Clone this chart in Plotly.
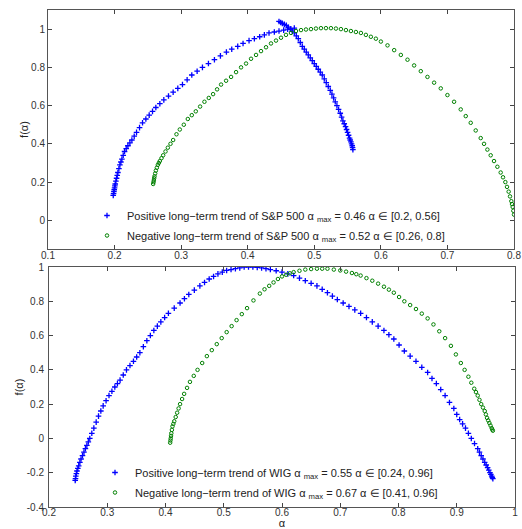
import plotly.graph_objects as go

# ---- Top panel: S&P 500 ----
sp_pos_alpha = [0.198, 0.1985, 0.199, 0.1995, 0.200, 0.2005, 0.201, 0.202, 0.203, 0.204, 0.205, 0.2065,
                0.208, 0.2095, 0.211, 0.213, 0.215, 0.2175, 0.220, 0.223, 0.226, 0.2295, 0.233, 0.2375,
                0.242, 0.247, 0.252, 0.257, 0.262, 0.268, 0.274, 0.281, 0.288, 0.295, 0.302, 0.309,
                0.316, 0.324, 0.332, 0.341, 0.350, 0.359, 0.368, 0.376, 0.385, 0.393, 0.402, 0.410,
                0.418, 0.425, 0.432, 0.440, 0.447, 0.454, 0.460, 0.465, 0.470,
                0.447, 0.4495, 0.452, 0.455, 0.458, 0.461, 0.464, 0.467, 0.470, 0.473, 0.476, 0.479,
                0.482, 0.485, 0.488, 0.491, 0.494, 0.497, 0.500, 0.503, 0.506, 0.509, 0.512, 0.515,
                0.518, 0.521, 0.524, 0.5265, 0.529, 0.5315, 0.534, 0.5365, 0.539, 0.541, 0.543, 0.545,
                0.547, 0.5485, 0.550, 0.5515, 0.553, 0.554, 0.555, 0.556, 0.557, 0.5575, 0.558]
sp_pos_f = [0.13, 0.14, 0.15, 0.16, 0.17, 0.18, 0.19, 0.205, 0.22, 0.235, 0.25, 0.27,
            0.29, 0.305, 0.32, 0.34, 0.36, 0.375, 0.39, 0.405, 0.42, 0.44, 0.46, 0.485,
            0.51, 0.53, 0.55, 0.57, 0.59, 0.61, 0.63, 0.65, 0.67, 0.69, 0.71, 0.735,
            0.76, 0.78, 0.80, 0.82, 0.84, 0.86, 0.88, 0.895, 0.91, 0.925, 0.94, 0.95,
            0.96, 0.97, 0.98, 0.985, 0.99, 0.995, 1.0, 1.0, 1.005,
            1.04, 1.035, 1.03, 1.025, 1.02, 1.01, 1.0, 0.99, 0.98, 0.965, 0.95, 0.93,
            0.91, 0.895, 0.88, 0.865, 0.85, 0.835, 0.82, 0.805, 0.79, 0.775, 0.76, 0.74,
            0.72, 0.70, 0.68, 0.66, 0.64, 0.62, 0.60, 0.58, 0.56, 0.54, 0.52, 0.505,
            0.49, 0.475, 0.46, 0.445, 0.43, 0.42, 0.41, 0.40, 0.39, 0.38, 0.37]

sp_neg_alpha = [0.258, 0.2585, 0.259, 0.2595, 0.260, 0.261, 0.262, 0.2635, 0.265, 0.2665, 0.268, 0.2705,
                0.273, 0.2765, 0.280, 0.284, 0.288, 0.293, 0.298, 0.304, 0.310, 0.316, 0.322, 0.3285,
                0.335, 0.3415, 0.348, 0.354, 0.360, 0.3675, 0.375, 0.3825, 0.390, 0.3975, 0.405, 0.4125,
                0.420, 0.4275, 0.435, 0.4425, 0.450, 0.4575, 0.465, 0.4725, 0.480, 0.4875, 0.495, 0.5025,
                0.510, 0.5175, 0.525, 0.5325, 0.540, 0.5475, 0.555, 0.5625, 0.570, 0.5775, 0.585, 0.5925,
                0.600, 0.610, 0.620, 0.630, 0.640, 0.650, 0.660, 0.670, 0.680, 0.690, 0.700, 0.710,
                0.720, 0.7275, 0.735, 0.7425, 0.750, 0.755, 0.760, 0.765, 0.770, 0.775, 0.780, 0.7835,
                0.787, 0.7895, 0.792, 0.794, 0.796, 0.797, 0.798, 0.799, 0.800]
sp_neg_f = [0.19, 0.20, 0.21, 0.22, 0.23, 0.245, 0.26, 0.275, 0.29, 0.30, 0.31, 0.325,
            0.34, 0.36, 0.38, 0.40, 0.42, 0.45, 0.475, 0.50, 0.53, 0.55, 0.57, 0.595,
            0.62, 0.64, 0.66, 0.685, 0.71, 0.73, 0.75, 0.775, 0.80, 0.82, 0.845, 0.865,
            0.885, 0.905, 0.925, 0.94, 0.955, 0.97, 0.98, 0.99, 0.995, 0.998, 1.0, 1.003,
            1.005, 1.005, 1.005, 1.003, 1.0, 0.995, 0.99, 0.985, 0.98, 0.97, 0.96, 0.95,
            0.935, 0.915, 0.89, 0.865, 0.84, 0.81, 0.78, 0.75, 0.72, 0.69, 0.655, 0.62,
            0.58, 0.545, 0.51, 0.47, 0.43, 0.40, 0.37, 0.34, 0.31, 0.28, 0.25, 0.225,
            0.20, 0.175, 0.15, 0.125, 0.10, 0.085, 0.07, 0.05, 0.03]

# ---- Bottom panel: WIG ----
wig_pos_alpha = [0.245, 0.2455, 0.246, 0.247, 0.248, 0.2495, 0.251, 0.253, 0.255, 0.2575, 0.260, 0.2625,
                 0.265, 0.2675, 0.270, 0.2735, 0.277, 0.281, 0.285, 0.289, 0.293, 0.298, 0.303, 0.308,
                 0.313, 0.3175, 0.322, 0.3275, 0.333, 0.339, 0.345, 0.3505, 0.356, 0.362, 0.368, 0.374,
                 0.380, 0.386, 0.392, 0.3985, 0.405, 0.415, 0.425, 0.4325, 0.440, 0.4495, 0.459, 0.467,
                 0.475, 0.4825, 0.490, 0.4975, 0.505, 0.5125, 0.520, 0.5275, 0.535, 0.5425, 0.550, 0.5575,
                 0.565, 0.5725, 0.580, 0.590, 0.600, 0.610, 0.620, 0.630, 0.640, 0.650, 0.660, 0.669,
                 0.678, 0.6865, 0.695, 0.705, 0.715, 0.725, 0.735, 0.745, 0.755, 0.765, 0.775, 0.7835,
                 0.792, 0.801, 0.810, 0.820, 0.830, 0.840, 0.850, 0.8575, 0.865, 0.8725, 0.880, 0.8875,
                 0.895, 0.900, 0.905, 0.910, 0.915, 0.920, 0.925, 0.9305, 0.936, 0.939, 0.942, 0.945,
                 0.948, 0.9505, 0.953, 0.955, 0.957, 0.9585, 0.960, 0.961, 0.962]
wig_pos_f = [-0.245, -0.235, -0.22, -0.205, -0.19, -0.175, -0.16, -0.14, -0.12, -0.10, -0.08, -0.06,
             -0.04, -0.02, 0.0, 0.03, 0.06, 0.095, 0.13, 0.16, 0.19, 0.22, 0.25, 0.275,
             0.30, 0.32, 0.34, 0.37, 0.40, 0.425, 0.45, 0.475, 0.50, 0.535, 0.57, 0.60,
             0.63, 0.655, 0.68, 0.705, 0.73, 0.76, 0.79, 0.815, 0.84, 0.865, 0.89, 0.91,
             0.93, 0.945, 0.96, 0.97, 0.98, 0.985, 0.99, 0.995, 1.0, 1.0, 1.0, 0.998,
             0.995, 0.99, 0.985, 0.978, 0.97, 0.96, 0.95, 0.935, 0.92, 0.905, 0.89, 0.87,
             0.85, 0.83, 0.81, 0.79, 0.77, 0.75, 0.73, 0.705, 0.68, 0.655, 0.63, 0.605,
             0.58, 0.545, 0.51, 0.48, 0.45, 0.415, 0.385, 0.35, 0.32, 0.285, 0.25, 0.21,
             0.175, 0.14, 0.11, 0.085, 0.06, 0.03, 0.0, -0.03, -0.06, -0.08, -0.10, -0.12,
             -0.14, -0.155, -0.17, -0.185, -0.20, -0.21, -0.22, -0.228, -0.235]

wig_neg_alpha = [0.408, 0.4085, 0.409, 0.4095, 0.410, 0.411, 0.412, 0.4135, 0.415, 0.4175, 0.420, 0.4225,
                 0.425, 0.4285, 0.432, 0.437, 0.442, 0.4485, 0.455, 0.463, 0.471, 0.4795, 0.488, 0.4965,
                 0.505, 0.5135, 0.522, 0.531, 0.540, 0.551, 0.562, 0.570, 0.578, 0.5855, 0.593, 0.600,
                 0.607, 0.6135, 0.620, 0.630, 0.640, 0.650, 0.660, 0.669, 0.678, 0.689, 0.700, 0.710,
                 0.720, 0.7275, 0.735, 0.745, 0.755, 0.765, 0.775, 0.7835, 0.792, 0.801, 0.810, 0.820,
                 0.830, 0.840, 0.850, 0.860, 0.870, 0.880, 0.890, 0.8985, 0.907, 0.9135, 0.920, 0.925,
                 0.930, 0.933, 0.936, 0.939, 0.942, 0.945, 0.948, 0.950, 0.952, 0.954, 0.956, 0.958,
                 0.960, 0.961, 0.962]
wig_neg_f = [-0.025, -0.012, 0.0, 0.015, 0.03, 0.05, 0.07, 0.085, 0.10, 0.125, 0.15, 0.175,
             0.20, 0.23, 0.26, 0.295, 0.33, 0.365, 0.40, 0.44, 0.48, 0.515, 0.55, 0.585,
             0.62, 0.655, 0.69, 0.725, 0.76, 0.805, 0.845, 0.87, 0.89, 0.91, 0.93, 0.945,
             0.955, 0.963, 0.97, 0.978, 0.985, 0.988, 0.99, 0.99, 0.99, 0.985, 0.98, 0.973,
             0.965, 0.958, 0.95, 0.935, 0.92, 0.903, 0.885, 0.868, 0.85, 0.825, 0.80, 0.778,
             0.755, 0.728, 0.70, 0.665, 0.625, 0.585, 0.54, 0.49, 0.44, 0.40, 0.36, 0.325,
             0.29, 0.27, 0.25, 0.225, 0.20, 0.18, 0.16, 0.14, 0.12, 0.105, 0.09, 0.075,
             0.06, 0.052, 0.045]

top_xticks = [0.1, 0.2, 0.3, 0.4, 0.5, 0.6, 0.7, 0.8]
top_yticks = [0, 0.2, 0.4, 0.6, 0.8, 1]
bot_xticks = [0.2, 0.3, 0.4, 0.5, 0.6, 0.7, 0.8, 0.9, 1]
bot_yticks = [-0.4, -0.2, 0, 0.2, 0.4, 0.6, 0.8, 1]

names = [
    "Positive long\u2212term trend of S&P 500 \u03b1\u00a0<sub>max</sub> = 0.46 \u03b1 \u2208 [0.2, 0.56]",
    "Negative long\u2212term trend of S&P 500 \u03b1\u00a0<sub>max</sub> = 0.52 \u03b1 \u2208 [0.26, 0.8]",
    "Positive long\u2212term trend of WIG \u03b1\u00a0<sub>max</sub> = 0.55 \u03b1 \u2208 [0.24, 0.96]",
    "Negative long\u2212term trend of WIG \u03b1\u00a0<sub>max</sub> = 0.67 \u03b1 \u2208 [0.41, 0.96]",
]

BLUE = "#0000ff"
GREEN = "#008000"
blue_marker = dict(symbol="cross-thin", size=4, line=dict(width=1.3, color=BLUE), color=BLUE)
green_marker = dict(symbol="circle-open", size=3.5, line=dict(width=1, color=GREEN), color=GREEN)

fig = go.Figure()
fig.add_trace(go.Scatter(x=sp_pos_alpha, y=sp_pos_f, mode="markers", marker=blue_marker,
                         name=names[0], xaxis="x", yaxis="y", legend="legend", legendgroup="a"))
fig.add_trace(go.Scatter(x=sp_neg_alpha, y=sp_neg_f, mode="markers", marker=green_marker,
                         name=names[1], xaxis="x", yaxis="y", legend="legend", legendgroup="b"))
fig.add_trace(go.Scatter(x=wig_pos_alpha, y=wig_pos_f, mode="markers", marker=blue_marker,
                         name=names[2], xaxis="x2", yaxis="y2", legend="legend2", legendgroup="c"))
fig.add_trace(go.Scatter(x=wig_neg_alpha, y=wig_neg_f, mode="markers", marker=green_marker,
                         name=names[3], xaxis="x2", yaxis="y2", legend="legend2", legendgroup="d"))

W, H = 522, 529
FONT = "Liberation Sans, Arial, sans-serif"
tickfont = dict(family=FONT, size=10, color="#333")
axis_common = dict(showline=True, linecolor="#555", linewidth=1, mirror="ticks", ticks="inside",
                   ticklen=4, tickcolor="#444", showgrid=False, zeroline=False, tickfont=tickfont,
                   automargin=False, ticklabeloverflow="allow")

leg_common = dict(xanchor="left", yanchor="top", bgcolor="rgba(0,0,0,0)", borderwidth=0,
                  tracegroupgap=1, font=dict(family=FONT, size=11, color="#222"), itemwidth=30)

fig.update_layout(
    width=W, height=H,
    margin=dict(l=0, r=0, t=0, b=0, pad=0),
    paper_bgcolor="white", plot_bgcolor="white",
    font=dict(family=FONT, size=11, color="#222"),
    xaxis=dict(domain=[48 / W, 514 / W], range=[0.1, 0.8], tickvals=top_xticks,
               ticktext=[str(v) for v in top_xticks], anchor="y", ticklabelstandoff=-3, **axis_common),
    yaxis=dict(domain=[1 - 249 / H, 1 - 10 / H], range=[-0.15, 1.1], tickvals=top_yticks,
               ticktext=[str(v) for v in top_yticks], anchor="x",
               title=dict(text="f(\u03b1)", standoff=0, font=dict(size=11)), **axis_common),
    xaxis2=dict(domain=[49 / W, 515 / W], range=[0.2, 1.0], tickvals=bot_xticks,
                ticktext=[str(v) for v in bot_xticks], anchor="y2", ticklabelstandoff=-4,
                title=dict(text="\u03b1", standoff=3, font=dict(size=11)), **axis_common),
    yaxis2=dict(domain=[1 - 507 / H, 1 - 267 / H], range=[-0.4, 1.0], tickvals=bot_yticks,
                ticktext=[str(v) for v in bot_yticks], anchor="x2", ticklabelstandoff=2,
                title=dict(text="f(\u03b1)", standoff=0, font=dict(size=11)), **axis_common),
    legend=dict(x=87 / W, y=1 - 201 / H, **leg_common),
    legend2=dict(x=95 / W, y=1 - 458 / H, **leg_common),
)

fig.write_html("out.html", post_script="document.body.style.margin='0';",
               config={"displayModeBar": False})
